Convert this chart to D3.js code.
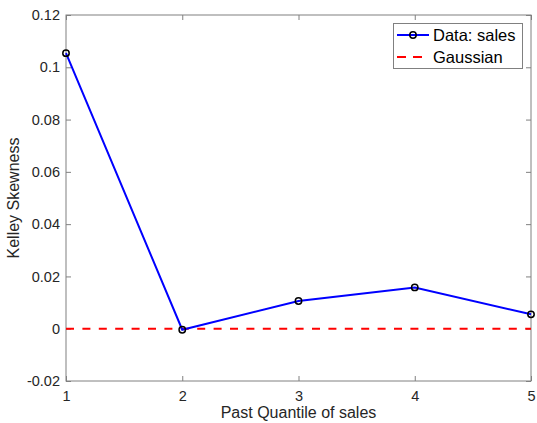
<!DOCTYPE html>
<html><head><meta charset="utf-8">
<script src="https://cdn.jsdelivr.net/npm/d3@7"></script>
<style>body{margin:0;background:#fff;}svg{display:block;font-family:"Liberation Sans",Arial,Helvetica,sans-serif;}</style>
</head><body>
<script>
const quantiles = [1, 2, 3, 4, 5];
const kelley = [0.1054, -0.0004, 0.0106, 0.0158, 0.0055];
const gaussian = [0, 0, 0, 0, 0];
const yTicks = [-0.02, 0, 0.02, 0.04, 0.06, 0.08, 0.1, 0.12];
const xTicks = [1, 2, 3, 4, 5];

const W = 537, H = 423;
const m = {l: 66, r: 6, t: 15, b: 42};
const svg = d3.select("body").append("svg").attr("width", W).attr("height", H);
const x = d3.scaleLinear().domain([1, 5]).range([m.l, W - m.r]);
const y = d3.scaleLinear().domain([-0.02, 0.12]).range([H - m.b, m.t]);
const g = svg.append("g");
const axCol = "#808080";
const tickLen = 5;

// box
g.append("rect").attr("x", m.l).attr("y", m.t).attr("width", W - m.r - m.l).attr("height", H - m.b - m.t)
  .attr("fill", "none").attr("stroke", axCol).attr("stroke-width", 1);

// ticks
const xAxisB = d3.axisBottom(x).tickValues(xTicks).tickSize(-tickLen).tickPadding(10).tickFormat(d3.format("d"));
const xAxisT = d3.axisTop(x).tickValues(xTicks).tickSize(-tickLen).tickFormat("");
const yAxisL = d3.axisLeft(y).tickValues(yTicks).tickSize(-tickLen).tickPadding(6).tickFormat(d => d === 0 ? "0" : String(+d.toFixed(2)));
const yAxisR = d3.axisRight(y).tickValues(yTicks).tickSize(-tickLen).tickFormat("");
function style(sel) {
  sel.select(".domain").remove();
  sel.selectAll("line").attr("stroke", axCol);
  sel.selectAll("text").attr("fill", "#262626").style("font-size", "14.5px").style("font-family", "Liberation Sans, Arial, sans-serif");
}
g.append("g").attr("transform", `translate(0,${H - m.b})`).call(xAxisB).call(style);
g.append("g").attr("transform", `translate(0,${m.t})`).call(xAxisT).call(style);
g.append("g").attr("transform", `translate(${m.l},0)`).call(yAxisL).call(style);
g.append("g").attr("transform", `translate(${W - m.r},0)`).call(yAxisR).call(style);

// gaussian line
const line = d3.line().x((d, i) => x(quantiles[i])).y(d => y(d));
g.append("path").datum(gaussian).attr("d", line).attr("fill", "none")
  .attr("stroke", "#ff0000").attr("stroke-width", 2).attr("stroke-dasharray", "8,8.4");
// data line
g.append("path").datum(kelley).attr("d", line).attr("fill", "none")
  .attr("stroke", "#0000ff").attr("stroke-width", 2);
g.selectAll("circle.pt").data(kelley).enter().append("circle")
  .attr("cx", (d, i) => x(quantiles[i])).attr("cy", d => y(d)).attr("r", 3.2)
  .attr("fill", "none").attr("stroke", "#000").attr("stroke-width", 1.5);

// labels
svg.append("text").attr("x", (m.l + W - m.r) / 2).attr("y", 417.5).attr("text-anchor", "middle")
  .style("font-size", "16px").attr("fill", "#262626").text("Past Quantile of sales");
svg.append("text").attr("transform", `translate(19,${(m.t + H - m.b) / 2}) rotate(-90)`).attr("text-anchor", "middle")
  .style("font-size", "16px").attr("fill", "#262626").text("Kelley Skewness");

// legend
const lg = svg.append("g");
lg.append("rect").attr("x", 393.5).attr("y", 23.5).attr("width", 129).attr("height", 45)
  .attr("fill", "#fff").attr("stroke", axCol).attr("stroke-width", 1);
lg.append("line").attr("x1", 397).attr("x2", 429).attr("y1", 35).attr("y2", 35).attr("stroke", "#0000ff").attr("stroke-width", 2);
lg.append("circle").attr("cx", 413).attr("cy", 35).attr("r", 3.2).attr("fill", "none").attr("stroke", "#000").attr("stroke-width", 1.5);
lg.append("text").attr("x", 433).attr("y", 41).style("font-size", "16.5px").attr("fill", "#000").text("Data: sales");
lg.append("line").attr("x1", 397).attr("x2", 429).attr("y1", 57).attr("y2", 57).attr("stroke", "#ff0000").attr("stroke-width", 2).attr("stroke-dasharray", "9,7");
lg.append("text").attr("x", 433).attr("y", 63).style("font-size", "16.5px").attr("fill", "#000").text("Gaussian");
</script>
</body></html>
